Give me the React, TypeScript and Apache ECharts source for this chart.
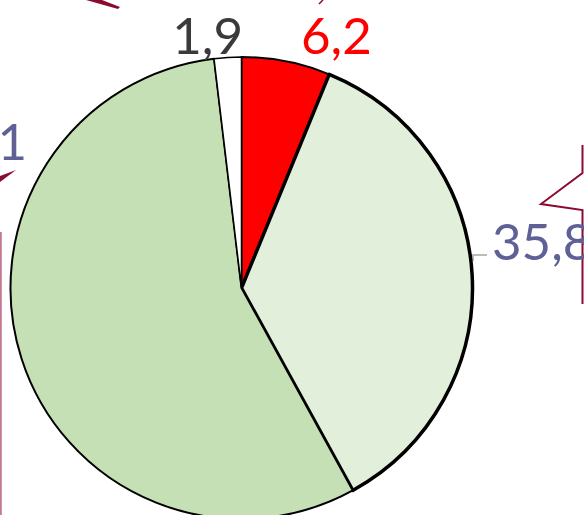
import React, { useEffect, useRef } from "react";
import * as echarts from "echarts";

const categories = ["A", "B", "C", "D"];
const values = [6.2, 35.8, 56.1, 1.9];
const labels = ["6,2", "35,8", "56,1", "1,9"];
const sliceColors = ["#ff0000", "#e2efda", "#c5e0b4", "#ffffff"];
const labelColors = ["#ff0000", "#5f6096", "#5f6096", "#3a3a3a"];
const borderWidths = [2, 3.5, 2, 1.5];

// label anchor positions (layout, not data)
const labelPos: { x: number; y: number; align: string }[] = [
  { x: 301, y: 34, align: "left" },
  { x: 492, y: 240, align: "left" },
  { x: 27, y: 140, align: "right" },
  { x: 243, y: 34, align: "right" },
];

export default function App() {
  const ref = useRef<HTMLDivElement>(null);
  useEffect(() => {
    if (!ref.current) return;
    const chart = echarts.init(ref.current, null, { renderer: "svg" });
    const dark = "#8b0a30";
    chart.setOption({
      animation: false,
      backgroundColor: "#ffffff",
      series: [
        {
          type: "pie",
          center: [241.5, 288],
          radius: 231,
          startAngle: 90,
          clockwise: true,
          avoidLabelOverlap: false,
          data: categories.map((c, i) => ({
            name: c,
            value: values[i],
            itemStyle: {
              color: sliceColors[i],
              borderColor: "#000000",
              borderWidth: borderWidths[i],
            },
            label: {
              show: true,
              formatter: labels[i],
              color: labelColors[i],
              fontFamily: "Lato",
              fontSize: 51,
            },
            labelLine: {
              show: i === 1,
              lineStyle: { color: "#a6a6a6", width: 1.5 },
            },
          })),
          label: { position: "outside" },
          labelLine: { show: false },
          labelLayout: (params: any) => {
            const p = labelPos[params.dataIndex];
            const res: any = {
              x: p.x,
              y: p.y,
              align: p.align,
              verticalAlign: "middle",
            };
            if (params.dataIndex === 1) {
              res.labelLinePoints = [
                [473, 261],
                [473, 255],
                [487, 255],
              ];
            }
            return res;
          },
        },
      ],
      graphic: [
        {
          type: "polygon",
          shape: { points: [[86, 0], [102, 0], [120, 7], [118, 9]] },
          style: { fill: dark },
        },
        {
          type: "polygon",
          shape: { points: [[0, 176], [16, 170], [0, 182]] },
          style: { fill: dark },
        },
        {
          type: "line",
          shape: { x1: 0.8, y1: 232, x2: 0.8, y2: 515 },
          style: { stroke: "#c27a92", lineWidth: 2 },
        },
        {
          type: "polyline",
          shape: { points: [[582.5, 145], [582.5, 173], [541, 204], [582.5, 210], [582.5, 304]] },
          style: { stroke: dark, lineWidth: 2, fill: null },
        },
        {
          type: "polyline",
          shape: { points: [[319, 4], [323, 0]] },
          style: { stroke: dark, lineWidth: 1.5, fill: null },
        },
      ],
    });
    return () => chart.dispose();
  }, []);
  return (
    <div
      ref={ref}
      style={{ position: "fixed", left: 0, top: 0, width: 584, height: 515 }}
    />
  );
}
